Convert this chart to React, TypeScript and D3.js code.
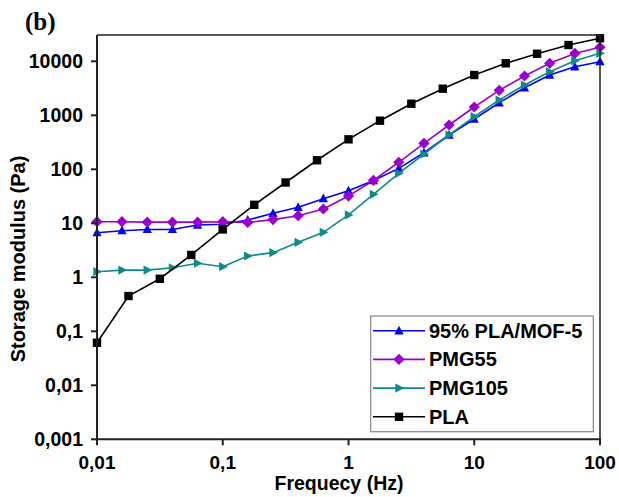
import React from "react";
import * as d3 from "d3";

// frequencies: PLA measured 4 points/decade, the composites 5 points/decade
const freqPLA = [0.01, 0.0178, 0.0316, 0.0562, 0.1, 0.178, 0.316, 0.562, 1, 1.78, 3.16, 5.62, 10, 17.8, 31.6, 56.2, 100];
const freqComp = [0.01, 0.0158, 0.0251, 0.0398, 0.0631, 0.1, 0.158, 0.251, 0.398, 0.631, 1, 1.58, 2.51, 3.98, 6.31, 10, 15.8, 25.1, 39.8, 63.1, 100];

const valPLA = [0.0615, 0.45, 0.94, 2.59, 7.7, 22, 57, 147, 359, 795, 1640, 3110, 5570, 9190, 13800, 20000, 26700];
const valMOF = [6.7, 7.3, 7.7, 7.7, 9.3, 9.6, 11.5, 15.3, 19.8, 28.6, 40, 62, 104, 203, 432, 854, 1710, 3240, 5570, 7940, 9840];
const valPMG55 = [10.7, 10.7, 10.5, 10.5, 10.5, 10.7, 10.4, 11.7, 13.8, 18.4, 32, 62.5, 135, 303, 661, 1425, 2900, 5340, 9180, 14000, 18200];
const valPMG105 = [1.27, 1.36, 1.36, 1.5, 1.82, 1.57, 2.48, 2.86, 4.45, 6.8, 14.3, 34.4, 84.3, 192, 432, 942, 1920, 3640, 6410, 10260, 14060];

const seriesNames = ["95% PLA/MOF-5", "PMG55", "PMG105", "PLA"];

const xTicks = [0.01, 0.1, 1, 10, 100];
const xTickLabels = ["0,01", "0,1", "1", "10", "100"];
const yTicks = [0.001, 0.01, 0.1, 1, 10, 100, 1000, 10000];
const yTickLabels = ["0,001", "0,01", "0,1", "1", "10", "100", "1000", "10000"];

const FONT = "'Liberation Sans', Arial, sans-serif";

const markerPath = (kind: string, s: number) => {
  if (kind === "square") return `M${-s},${-s}H${s}V${s}H${-s}Z`;
  if (kind === "diamond") return `M0,${-s}L${s},0L0,${s}L${-s},0Z`;
  if (kind === "up") return `M0,${-s * 1.1}L${s},${s * 0.8}L${-s},${s * 0.8}Z`;
  return `M${s * 1.1},0L${-s * 0.8},${s}L${-s * 0.8},${-s}Z`; // right-pointing
};

const App = () => {
  const width = 619;
  const height = 497;
  const left = 97, right = 600, top = 35, bottom = 439.3;

  const x = d3.scaleLog().domain([0.01, 100]).range([left, right]);
  const y = d3.scaleLog().domain([0.001, 30700]).range([bottom, top]);

  const series = [
    { name: seriesNames[0], f: freqComp, v: valMOF, color: "#0000ff", marker: "up", size: 4.6 },
    { name: seriesNames[1], f: freqComp, v: valPMG55, color: "#9900cc", marker: "diamond", size: 5.6 },
    { name: seriesNames[2], f: freqComp, v: valPMG105, color: "#0e8a8a", marker: "right", size: 4.6 },
    { name: seriesNames[3], f: freqPLA, v: valPLA, color: "#000000", marker: "square", size: 4.2 },
  ];

  const line = d3
    .line<[number, number]>()
    .x((d) => x(d[0]))
    .y((d) => y(d[1]));

  const legendTop = 316;
  const legendRow = 28.7;

  return (
    <svg width={width} height={height} style={{ position: "absolute", left: 0, top: 0, background: "#fff" }}>
      <text x={25} y={30} fontFamily="'Liberation Serif', 'Times New Roman', serif" fontWeight="bold" fontSize={25}>
        (b)
      </text>

      {series.map((s) => {
        const pts = s.f.map((f, i) => [f, s.v[i]] as [number, number]);
        return (
          <g key={s.name}>
            <path d={line(pts) || ""} fill="none" stroke={s.color} strokeWidth={1.6} />
            {pts.map((p, i) => (
              <path
                key={i}
                d={markerPath(s.marker, s.size)}
                transform={`translate(${x(p[0])},${y(p[1])})`}
                fill={s.color}
              />
            ))}
          </g>
        );
      })}

      {/* frame */}
      <line x1={left} x2={right} y1={top} y2={top} stroke="#222" strokeWidth={1.5} />
      <line x1={right} x2={right} y1={top} y2={bottom} stroke="#222" strokeWidth={1.5} />
      <line x1={left} x2={left} y1={top} y2={bottom + 1} stroke="#222" strokeWidth={2} />
      <line x1={left - 1} x2={right + 1} y1={bottom} y2={bottom} stroke="#222" strokeWidth={2} />

      {/* x ticks */}
      {xTicks.map((t, i) => (
        <g key={t}>
          <line x1={x(t)} x2={x(t)} y1={bottom} y2={bottom + 6} stroke="#222" strokeWidth={2} />
          <text x={x(t)} y={469} textAnchor="middle" fontFamily={FONT} fontWeight="bold" fontSize={19}>
            {xTickLabels[i]}
          </text>
        </g>
      ))}

      {/* y ticks */}
      {yTicks.map((t, i) => (
        <g key={t}>
          <line x1={left - 6} x2={left} y1={y(t)} y2={y(t)} stroke="#222" strokeWidth={2} />
          <text x={83} y={y(t) + 7} textAnchor="end" fontFamily={FONT} fontWeight="bold" fontSize={19.5}>
            {yTickLabels[i]}
          </text>
        </g>
      ))}

      <text x={339} y={490} textAnchor="middle" fontFamily={FONT} fontWeight="bold" fontSize={19.5}>
        Frequecy (Hz)
      </text>
      <text
        transform={`translate(25,259) rotate(-90)`}
        textAnchor="middle"
        fontFamily={FONT}
        fontWeight="bold"
        fontSize={20}
      >
        Storage modulus (Pa)
      </text>

      {/* legend */}
      <rect x={370.7} y={legendTop} width={222.6} height={115.7} fill="#fff" stroke="#888" strokeWidth={1.2} />
      {series.map((s, i) => {
        const cy = legendTop + 14.7 + i * legendRow;
        return (
          <g key={s.name}>
            <line x1={373} x2={425} y1={cy} y2={cy} stroke={s.color} strokeWidth={1.6} />
            <path d={markerPath(s.marker, s.size)} transform={`translate(399,${cy})`} fill={s.color} />
            <text x={429} y={cy + 7} fontFamily={FONT} fontWeight="bold" fontSize={20}>
              {s.name}
            </text>
          </g>
        );
      })}
    </svg>
  );
};

export default App;
